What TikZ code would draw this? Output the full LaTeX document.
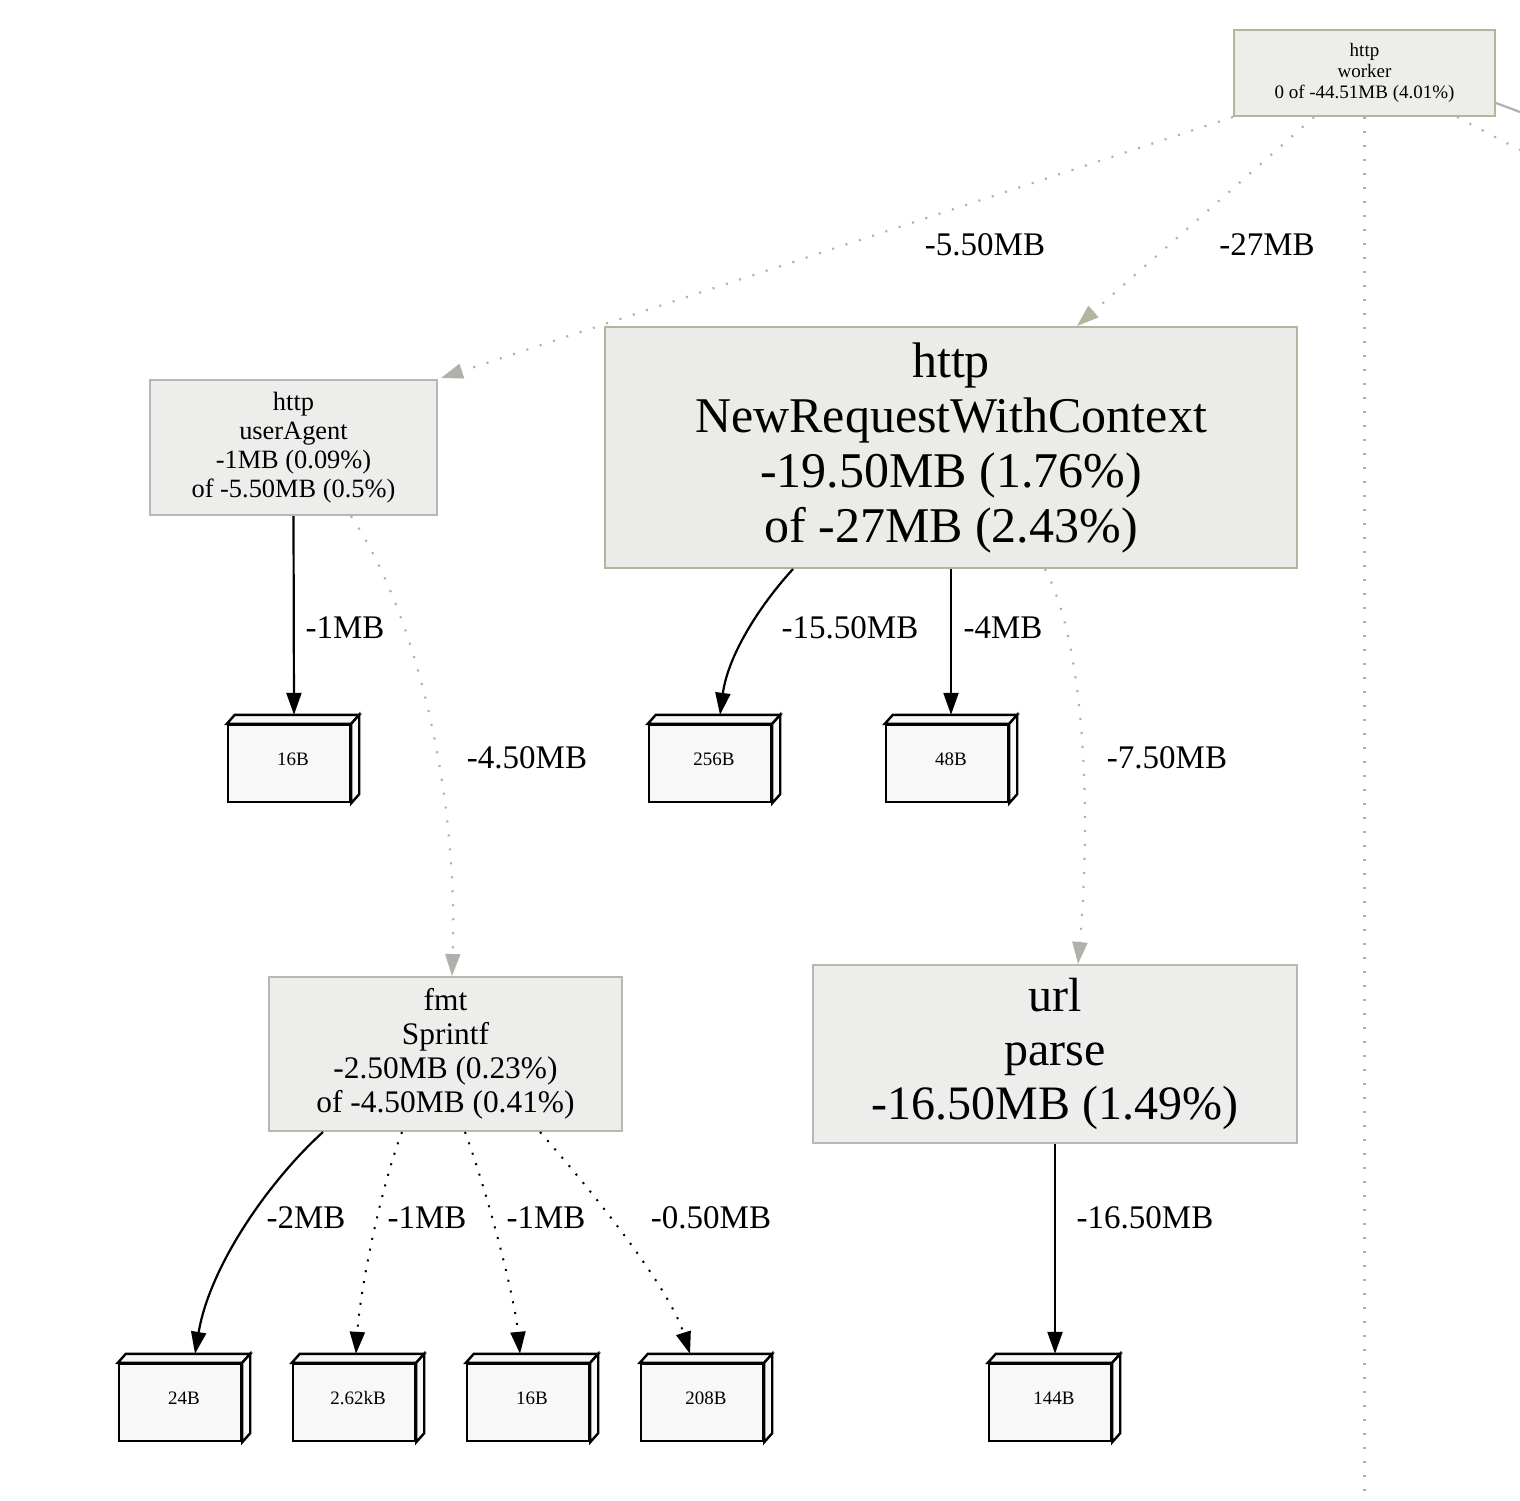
\documentclass[tikz,border=0pt]{standalone}
\usepackage{fontspec}
\setmainfont{Liberation Serif}
\usetikzlibrary{arrows.meta,calc}
\definecolor{wfill}{HTML}{EDEEE9}
\definecolor{wdraw}{HTML}{B2B79C}
\definecolor{gfill}{HTML}{EDEDEB}
\definecolor{gdraw}{HTML}{B8B8B2}
\definecolor{nfill}{HTML}{EBEBE8}
\definecolor{ndraw}{HTML}{B2B5A0}
\definecolor{dotgrey}{HTML}{B0B1AB}
\definecolor{cubefill}{HTML}{F8F8F8}
\tikzset{
  fn/.style={rectangle, line width=2pt, align=center, inner sep=0pt},
  cubebox/.style={rectangle, draw=black, fill=cubefill, line width=2.4pt, minimum width=122pt, minimum height=77pt, inner sep=0pt, font=\fontsize{19}{21}\selectfont},
  cubeface/.style={draw=black, fill=cubefill, line width=2.4pt, line join=miter},
  solidedge/.style={draw=black, line width=2.2pt, -{Triangle[length=22pt,width=15pt]}},
  greydot/.style={draw=dotgrey, line width=2.2pt, dash pattern=on 2pt off 12pt, -{Triangle[length=22pt,width=15pt,fill=dotgrey]}},
  blackdot/.style={draw=black, line width=2pt, dash pattern=on 2pt off 9pt, -{Triangle[length=22pt,width=15pt,fill=black]}},
  elabel/.style={font=\fontsize{33}{36}\selectfont, inner sep=0pt}
}
\newcommand{\cubefaces}[1]{%
  \path[cubeface] (#1.north west) -- ++(8,-9) -- ([xshift=8pt,yshift=9pt]#1.north east) -- (#1.north east) -- cycle;
  \path[cubeface] (#1.north east) -- ++(8,-9) -- ([xshift=8pt,yshift=9pt]#1.south east) -- (#1.south east) -- cycle;
}
\newcommand{\cubetext}[1]{\hspace*{8pt}\raisebox{4.5pt}[\height][\depth]{#1}}
\begin{document}
\begin{tikzpicture}[x=1pt,y=-1pt]
\useasboundingbox[fill=white] (0,0) rectangle (1520,1500);

% function nodes
\node[fn, fill=wfill, draw=wdraw, minimum width=261pt, minimum height=86pt, font=\fontsize{19}{21}\selectfont] (worker) at (1364.5,73) {http\\worker\\0 of -44.51MB (4.01\%)};
\node[fn, fill=gfill, draw=gdraw, minimum width=287pt, minimum height=135pt, font=\fontsize{26.4}{29}\selectfont] (ua) at (293.5,447.5) {http\\userAgent\\-1MB (0.09\%)\\of -5.50MB (0.5\%)};
\node[fn, fill=nfill, draw=ndraw, minimum width=692pt, minimum height=241pt, font=\fontsize{50}{55}\selectfont] (nr) at (951,447.5) {http\\NewRequestWithContext\\-19.50MB (1.76\%)\\of -27MB (2.43\%)};
\node[fn, fill=gfill, draw=gdraw, minimum width=353pt, minimum height=154pt, font=\fontsize{31.4}{34}\selectfont] (fmt) at (445.5,1054) {fmt\\Sprintf\\-2.50MB (0.23\%)\\of -4.50MB (0.41\%)};
\node[fn, fill=gfill, draw=gdraw, minimum width=484pt, minimum height=178pt, font=\fontsize{48}{54}\selectfont] (url) at (1055,1054) {url\\parse\\-16.50MB (1.49\%)};

% cube nodes
\node[cubebox] (c16a) at (289,763.5) {\cubetext{16B}}; \cubefaces{c16a}
\node[cubebox] (c256) at (710,763.5) {\cubetext{256B}}; \cubefaces{c256}
\node[cubebox] (c48) at (947,763.5) {\cubetext{48B}}; \cubefaces{c48}
\node[cubebox] (c24) at (180,1402.5) {\cubetext{24B}}; \cubefaces{c24}
\node[cubebox] (c262) at (354,1402.5) {\cubetext{2.62kB}}; \cubefaces{c262}
\node[cubebox] (c16b) at (528,1402.5) {\cubetext{16B}}; \cubefaces{c16b}
\node[cubebox] (c208) at (702,1402.5) {\cubetext{208B}}; \cubefaces{c208}
\node[cubebox] (c144) at (1050,1402.5) {\cubetext{144B}}; \cubefaces{c144}

% free ends off the page
\coordinate (wdown) at (1364.5,1500);
\coordinate (wr1) at (1520,112);
\coordinate (wr2) at (1520,150);

% edges from worker
\draw[greydot] (worker.south west) -- ([xshift=3pt,yshift=1pt]ua.north east);
\draw[greydot, -{Triangle[length=22pt,width=15pt,fill=ndraw,color=ndraw]}] ([xshift=81pt]worker.south west) -- ([xshift=473pt]nr.north west);
\draw[draw=dotgrey, line width=2.2pt, dash pattern=on 2pt off 12pt] (worker.south) -- (wdown);
\draw[draw=dotgrey, line width=2.2pt] ([yshift=-30pt]worker.east) -- (wr1);
\draw[draw=dotgrey, line width=2.2pt, dash pattern=on 2pt off 12pt] ([xshift=224pt]worker.south west) -- (wr2);

% edges from userAgent
\draw[solidedge] (ua.south) -- ([xshift=5pt,yshift=9pt]c16a.north);
\draw[greydot] ([xshift=202pt]ua.south west) .. controls (420,620) and (458,800) .. ([xshift=6.5pt]fmt.north);

% edges from NewRequestWithContext
\draw[solidedge] ([xshift=189pt]nr.south west) .. controls (760,605) and (728,655) .. ([xshift=10pt,yshift=9pt]c256.north);
\draw[solidedge] (nr.south) -- ([xshift=4pt,yshift=9pt]c48.north);
\draw[greydot] ([xshift=441pt]nr.south west) .. controls (1088,650) and (1090,830) .. ([xshift=23pt]url.north);

% edges from fmt
\draw[solidedge] ([xshift=55pt]fmt.south west) .. controls (270,1180) and (210,1265) .. ([xshift=15pt,yshift=9pt]c24.north);
\draw[blackdot] ([xshift=134pt]fmt.south west) .. controls (380,1190) and (360,1290) .. ([xshift=2pt,yshift=9pt]c262.north);
\draw[blackdot] ([xshift=197pt]fmt.south west) .. controls (490,1200) and (515,1300) .. ([xshift=-8pt,yshift=9pt]c16b.north);
\draw[blackdot] ([xshift=272pt]fmt.south west) .. controls (600,1200) and (670,1290) .. ([xshift=-12pt,yshift=9pt]c208.north);

% edge from url
\draw[solidedge] (url.south) -- ([xshift=5pt,yshift=9pt]c144.north);

% edge labels
\node[elabel] (l1) at (985,245) {-5.50MB};
\node[elabel] (l2) at (1267,245) {-27MB};
\node[elabel] (l3) at (345,628) {-1MB};
\node[elabel] (l4) at (527,758) {-4.50MB};
\node[elabel] (l5) at (850,628) {-15.50MB};
\node[elabel] (l6) at (1003,628) {-4MB};
\node[elabel] (l7) at (1167,758) {-7.50MB};
\node[elabel] (l8) at (306,1218) {-2MB};
\node[elabel] (l9) at (427,1218) {-1MB};
\node[elabel] (l10) at (546,1218) {-1MB};
\node[elabel] (l11) at (711,1218) {-0.50MB};
\node[elabel] (l12) at (1145,1218) {-16.50MB};
\end{tikzpicture}
\end{document}
